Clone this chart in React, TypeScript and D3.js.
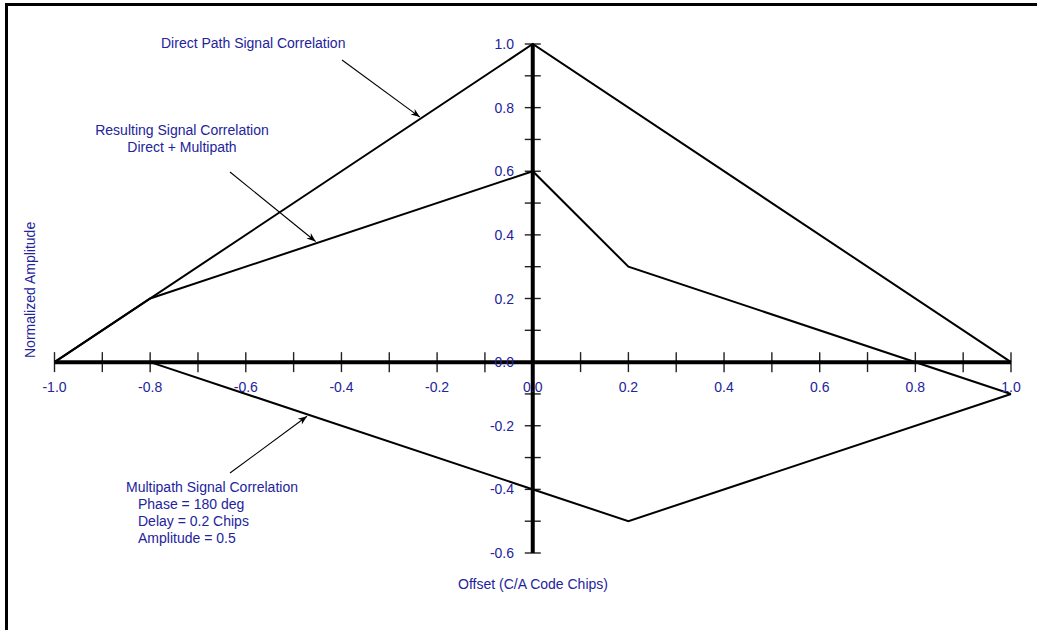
import React from "react";
import * as d3 from "d3";

// Correlation triangles (offset in C/A code chips, normalized amplitude)
const directOffsets = [-1.0, 0.0, 1.0];
const directValues = [0.0, 1.0, 0.0];

const multipathOffsets = [-0.8, 0.2, 1.0];
const multipathValues = [0.0, -0.5, -0.1];

const resultOffsets = [-1.0, -0.8, 0.0, 0.2, 1.0];
const resultValues = [0.0, 0.2, 0.6, 0.3, -0.1];

// Axis ticks
const xMinorTicks = d3.range(-10, 11).map((i) => i / 10);
const xLabelTicks = [-1.0, -0.8, -0.6, -0.4, -0.2, 0.0, 0.2, 0.4, 0.6, 0.8, 1.0];
const yMinorTicks = d3.range(-6, 11).map((i) => i / 10);
const yLabelTicks = [1.0, 0.8, 0.6, 0.4, 0.2, 0.0, -0.2, -0.4, -0.6];

const W = 1037;
const H = 630;
const TEXT = "#23239c";
const FONT = "Liberation Sans, Arial, Helvetica, sans-serif";

export default function App() {
  const x = d3.scaleLinear().domain([-1, 1]).range([54.5, 1011]);
  const y = d3.scaleLinear().domain([-0.6, 1]).range([553, 44]);
  const x0 = x(0);
  const y0 = y(0);

  const line = d3
    .line<[number, number]>()
    .x((d) => x(d[0]))
    .y((d) => y(d[1]));

  const zip = (a: number[], b: number[]) => a.map((v, i) => [v, b[i]] as [number, number]);

  const curves = [
    zip(directOffsets, directValues),
    zip(resultOffsets, resultValues),
    zip(multipathOffsets, multipathValues),
  ];

  // Callout arrows: start in pixels, tip on the curve at a given offset
  const directAt = (o: number) => 1 - Math.abs(o);
  const resultAt = (o: number) => 0.2 + ((o + 0.8) / 0.8) * 0.4;
  const multiAt = (o: number) => -0.5 * ((o + 0.8) / 1.0);
  const arrows = [
    { from: [342, 60], to: [x(-0.236), y(directAt(-0.236)) - 2] },
    { from: [230, 172], to: [x(-0.454), y(resultAt(-0.454)) - 2] },
    { from: [230, 473], to: [x(-0.472), y(multiAt(-0.472)) + 2] },
  ];

  const arrowHead = (from: number[], to: number[]) => {
    const ang = Math.atan2(to[1] - from[1], to[0] - from[0]);
    const L = 9;
    const Wd = 3.5;
    const bx = to[0] - L * Math.cos(ang);
    const by = to[1] - L * Math.sin(ang);
    const nx = -Math.sin(ang);
    const ny = Math.cos(ang);
    const nxm = to[0] - L * 0.7 * Math.cos(ang);
    const nym = to[1] - L * 0.7 * Math.sin(ang);
    return `M${to[0]},${to[1]} L${bx + nx * Wd},${by + ny * Wd} L${nxm},${nym} L${bx - nx * Wd},${by - ny * Wd} Z`;
  };

  const textStyle = { fontFamily: FONT, fontSize: 14, fill: TEXT } as const;

  return (
    <svg
      width={W}
      height={H}
      style={{ position: "absolute", left: 0, top: 0, background: "#fff" }}
    >
      {/* page frame */}
      <rect x={6.5} y={4.5} width={W + 20} height={H + 20} fill="none" stroke="#000" strokeWidth={3} />

      {/* x-axis ticks */}
      {xMinorTicks.map((t) => (
        <line key={"xt" + t} x1={x(t)} x2={x(t)} y1={y0 - 10} y2={y0 + 10} stroke="#222" strokeWidth={1.4} />
      ))}
      {/* y-axis ticks */}
      {yMinorTicks.map((t) => (
        <line key={"yt" + t} x1={x0 - 8} x2={x0 + 8} y1={y(t)} y2={y(t)} stroke="#222" strokeWidth={1.4} />
      ))}

      {/* axes */}
      <line x1={x(-1)} x2={x(1)} y1={y0} y2={y0} stroke="#000" strokeWidth={4} />
      <line x1={x0} x2={x0} y1={y(-0.6)} y2={y(1)} stroke="#000" strokeWidth={4} />

      {/* curves */}
      {curves.map((c, i) => (
        <path key={"c" + i} d={line(c) || ""} fill="none" stroke="#000" strokeWidth={2} strokeLinejoin="miter" />
      ))}

      {/* tick labels */}
      {xLabelTicks.map((t) => (
        <text key={"xl" + t} x={x(t)} y={392} textAnchor="middle" style={textStyle}>
          {t.toFixed(1)}
        </text>
      ))}
      {yLabelTicks.map((t) => (
        <text key={"yl" + t} x={514} y={y(t) + 5} textAnchor="end" style={textStyle}>
          {t.toFixed(1)}
        </text>
      ))}

      {/* axis titles */}
      <text x={533} y={589} textAnchor="middle" style={textStyle}>
        Offset (C/A Code Chips)
      </text>
      <text transform="translate(35,358) rotate(-90)" textAnchor="start" style={textStyle}>
        Normalized Amplitude
      </text>

      {/* annotations */}
      <text x={161} y={48} style={textStyle}>Direct Path Signal Correlation</text>
      <text x={182} y={135} textAnchor="middle" style={textStyle}>Resulting Signal Correlation</text>
      <text x={182} y={152} textAnchor="middle" style={textStyle}>Direct + Multipath</text>
      <text x={126} y={492} style={textStyle}>Multipath Signal Correlation</text>
      <text x={138} y={509} style={textStyle}>Phase = 180 deg</text>
      <text x={138} y={526} style={textStyle}>Delay = 0.2 Chips</text>
      <text x={138} y={543} style={textStyle}>Amplitude = 0.5</text>

      {arrows.map((a, i) => (
        <g key={"a" + i}>
          <line x1={a.from[0]} y1={a.from[1]} x2={a.to[0]} y2={a.to[1]} stroke="#000" strokeWidth={1.1} />
          <path d={arrowHead(a.from, a.to)} fill="#000" />
        </g>
      ))}
    </svg>
  );
}
